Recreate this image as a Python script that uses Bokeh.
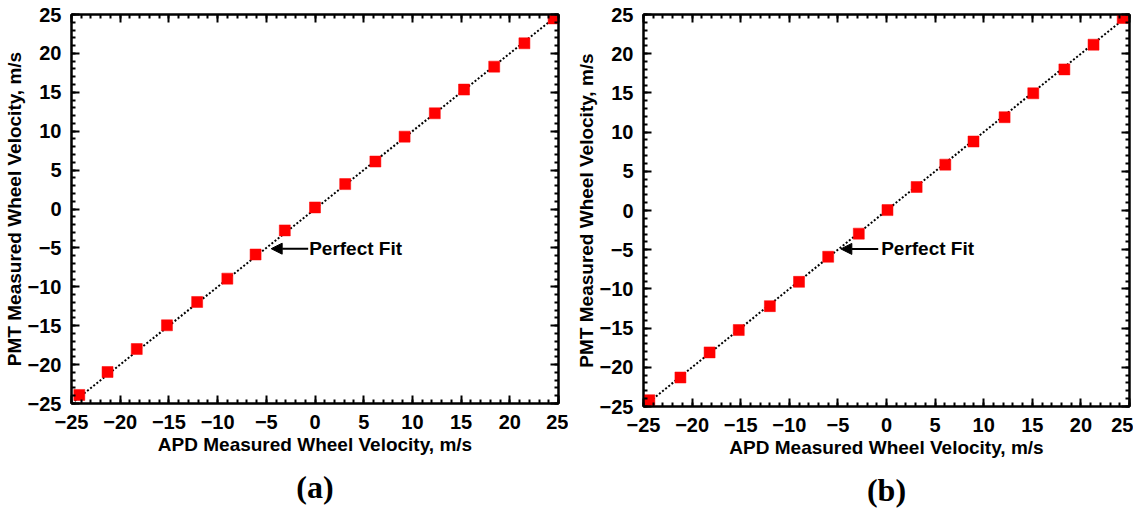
from bokeh.plotting import figure
from bokeh.layouts import row
from bokeh.models import (Range1d, LinearAxis, SingleIntervalTicker, Arrow, NormalHead,
                          Label, Title, CustomLabelingPolicy)
from bokeh.embed import file_html
from bokeh.resources import INLINE

# ---- data ----
apd_a = [-24.2, -21.3, -18.3, -15.2, -12.1, -9.0, -6.1, -3.1, 0.0, 3.1, 6.2, 9.2, 12.3, 15.3, 18.4, 21.5, 24.5]
pmt_a = [-23.9, -20.95, -18.0, -14.95, -11.95, -8.95, -5.85, -2.75, 0.2, 3.2, 6.1, 9.3, 12.3, 15.35, 18.3, 21.3, 24.5]
apd_b = [-24.4, -21.2, -18.2, -15.2, -12.0, -9.0, -6.0, -2.85, 0.1, 3.1, 6.05, 8.95, 12.15, 15.1, 18.3, 21.3, 24.3]
pmt_b = [-24.2, -21.3, -18.1, -15.25, -12.2, -9.1, -5.9, -2.95, 0.05, 3.0, 5.85, 8.8, 11.9, 14.95, 18.0, 21.15, 24.55]
fit_x = [-25, 25]
fit_y = [-25, 25]
x_title = "APD Measured Wheel Velocity, m/s"
y_title = "PMT Measured Wheel Velocity, m/s"
fit_text = "Perfect Fit"
# annotation anchors (data units): arrow tail x, head x, y, text x
ann_a = (-0.7, -4.5, -5.1, -0.6)
ann_b = (-0.85, -4.7, -4.9, -0.55)

FONT = "Liberation Sans"
FS_TICK = "20px"
FS_TITLE = "19px"


def make(apd, pmt, ann, tag, fw, fh, bl, br, bt, bb):
    p = figure(frame_width=fw, frame_height=fh,
               x_range=Range1d(-25, 25), y_range=Range1d(-25, 25),
               output_backend="svg", toolbar_location=None,
               min_border_left=bl, min_border_right=br, min_border_top=bt,
               min_border_bottom=bb,
               x_axis_label=x_title, y_axis_label=y_title)
    p.grid.visible = False
    p.outline_line_color = "black"
    p.outline_line_width = 2
    p.add_layout(LinearAxis(), "above")
    p.add_layout(LinearAxis(), "right")
    for ax in p.axis:
        ax.ticker = SingleIntervalTicker(interval=5, num_minor_ticks=5)
        ax.axis_line_width = 2
        ax.axis_line_color = "black"
        ax.major_tick_in = 8
        ax.major_tick_out = 0
        ax.minor_tick_in = 4
        ax.minor_tick_out = 0
        ax.major_tick_line_width = 2
        ax.minor_tick_line_width = 2
        ax.major_tick_line_color = "black"
        ax.minor_tick_line_color = "black"
        ax.major_label_text_font = FONT
        ax.major_label_text_font_style = "bold"
        ax.major_label_text_font_size = FS_TICK
        ax.major_label_text_color = "black"
        ax.axis_label_text_font = FONT
        ax.axis_label_text_font_style = "bold"
        ax.axis_label_text_font_size = FS_TITLE
        ax.axis_label_text_color = "black"
    for ax in (p.above[0], p.right[0]):
        ax.major_label_text_font_size = "0px"
        ax.major_label_policy = CustomLabelingPolicy(code="return new Set()")
        ax.major_label_standoff = 0
        ax.axis_label = None
    p.below[0].major_label_standoff = 11
    p.below[0].axis_label_standoff = 2
    p.left[0].major_label_standoff = 10
    p.left[0].axis_label_standoff = 0

    p.line(fit_x, fit_y, line_color="black", line_width=2, line_dash="2 2")
    p.scatter(apd, pmt, marker="square", size=11, fill_color="#ff0000",
              line_color="#ff0000", line_width=0.5)

    tx, hx, ay, lx = ann
    p.add_layout(Arrow(end=NormalHead(size=11, fill_color="black", line_color="black"),
                       x_start=tx, y_start=ay, x_end=hx, y_end=ay,
                       line_color="black", line_width=2))
    p.add_layout(Label(x=lx, y=ay, text=fit_text, text_font=FONT, text_font_style="bold",
                       text_font_size=FS_TITLE, text_baseline="middle", text_align="left",
                       text_color="black"))
    p.add_layout(Title(text=tag, align="center", text_font="Liberation Serif",
                       text_font_style="bold", text_font_size="32px", text_color="black",
                       standoff=19), "below")
    return p


p1 = make(apd_a, pmt_a, ann_a, "(a)", 487, 389, 69, 10, 14, 97)
p2 = make(apd_b, pmt_b, ann_b, "(b)", 486, 392, 75, 4, 14, 94)
layout = row(p1, p2)
open("out.html", "w").write(file_html(layout, INLINE))
